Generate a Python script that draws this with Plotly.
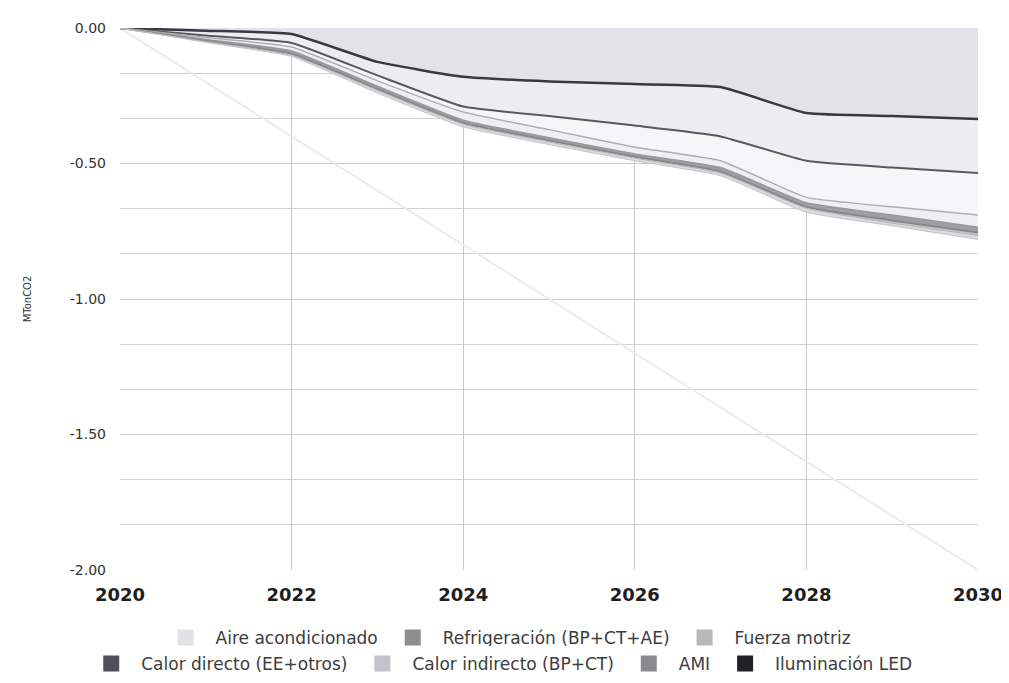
import plotly.graph_objects as go

# -------------------------------------------------------
# Datos (MTonCO2, aporte de cada medida, apilado hacia abajo)
# -------------------------------------------------------
anios = [2020, 2021, 2022, 2023, 2024, 2025, 2026, 2027, 2028, 2029, 2030]

aire_acondicionado = [0, -0.010, -0.022, -0.125, -0.180, -0.197, -0.207, -0.218, -0.314, -0.325, -0.336]
refrigeracion = [0, -0.018, -0.033, -0.050, -0.110, -0.128, -0.153, -0.182, -0.176, -0.190, -0.199]
fuerza_motriz = [0, -0.007, -0.015, -0.020, -0.020, -0.050, -0.080, -0.090, -0.135, -0.145, -0.155]
calor_directo = [0, -0.007, -0.015, -0.020, -0.030, -0.030, -0.025, -0.025, -0.020, -0.030, -0.045]
calor_indirecto = [0, -0.005, -0.010, -0.010, -0.010, -0.010, -0.010, -0.015, -0.015, -0.020, -0.020]
ami = [0, -0.003, -0.005, -0.005, -0.005, -0.005, -0.005, -0.005, -0.005, -0.010, -0.010]
iluminacion_led = [0, -0.003, -0.005, -0.010, -0.010, -0.010, -0.010, -0.010, -0.015, -0.010, -0.015]

# linea tenue de referencia (diagonal)
meta = [0, -0.20, -0.40, -0.60, -0.80, -1.00, -1.20, -1.40, -1.60, -1.80, -2.00]

nombres = ["Aire acondicionado", "Refrigeración (BP+CT+AE)", "Fuerza motriz",
           "Calor directo (EE+otros)", "Calor indirecto (BP+CT)", "AMI", "Iluminación LED"]
series = [aire_acondicionado, refrigeracion, fuerza_motriz, calor_directo,
          calor_indirecto, ami, iluminacion_led]

y_ticks = [0, -0.5, -1.0, -1.5, -2.0]
y_ticktext = ["0.00", "-0.50", "-1.00", "-1.50", "-2.00"]

# -------------------------------------------------------
# Estilos
# -------------------------------------------------------
rellenos = ["#e3e1ea", "#edecf2", "#f6f6f8", "#efeff2", "#a0a0a4", "#c6c6c9", "#dadadd"]
lineas = ["#38383e", "#58585e", "#aeaeb2", "#98989c", "#88888c", "#b2b2b6", "#c4c4c8"]
anchos = [2.5, 2, 1.5, 1.5, 2, 1, 1]
leyenda_colores = ["#e2e2e6", "#8e8e92", "#b8b8bc", "#505054", "#c4c4c8", "#8a8a8e", "#222226"]

fig = go.Figure()

fig.add_trace(go.Scatter(
    x=anios, y=meta, mode="lines",
    line=dict(color="#ebebed", width=2),
    showlegend=False, hoverinfo="skip"
))

for nombre, vals, rel, lin, w in zip(nombres, series, rellenos, lineas, anchos):
    fig.add_trace(go.Scatter(
        x=anios, y=vals, name=nombre, stackgroup="uno",
        mode="lines", line=dict(color=lin, width=w, shape="spline", smoothing=0.4),
        fillcolor=rel, showlegend=False
    ))

# entradas de leyenda (cuadrados), fila 1 y fila 2
for i, (nombre, col) in enumerate(zip(nombres, leyenda_colores)):
    fig.add_trace(go.Scatter(
        x=[None], y=[None], name=nombre, mode="markers",
        marker=dict(symbol="square", size=20, color=col),
        legend="legend" if i < 3 else "legend2"
    ))

fuente_ley = dict(family="DejaVu Sans", size=17, color="#3c3c3c")

# el cuerpo de la pagina deja 8 px de margen: figura 1001x675
fig.update_layout(
    width=1001, height=675,
    margin=dict(l=112, r=31, t=20, b=113),
    plot_bgcolor="white", paper_bgcolor="white",
    font=dict(family="DejaVu Sans", color="#333"),
    legend=dict(orientation="h", x=0.45, xanchor="center", yref="container",
                y=1 - 630 / 675, yanchor="middle",
                font=fuente_ley, traceorder="normal", itemwidth=50),
    legend2=dict(orientation="h", x=0.442, xanchor="center", yref="container",
                 y=1 - 656 / 675, yanchor="middle",
                 font=fuente_ley, traceorder="normal", itemwidth=50),
)

fig.update_xaxes(
    range=[2020, 2030], tickvals=[2020, 2022, 2024, 2026, 2028, 2030],
    showgrid=True, gridcolor="#cbcbcb", gridwidth=1,
    tickfont=dict(family="DejaVu Sans", size=18, color="#1e1e1e", weight="bold"),
    ticklabelstandoff=12,
    showline=False, zeroline=False, automargin=False
)

fig.update_yaxes(
    range=[-2.0, 0.0], tickvals=y_ticks, ticktext=y_ticktext,
    showgrid=True, gridcolor="#cbcbcb", gridwidth=1,
    minor=dict(dtick=0.5 / 3, showgrid=True, gridcolor="#d2d2d2"),
    tickfont=dict(family="DejaVu Sans", size=14, color="#333"),
    ticklabelstandoff=13,
    title=dict(text="MTonCO2", font=dict(family="DejaVu Sans", size=10, color="#333"), standoff=36),
    zeroline=False, showline=False, automargin=False
)

fig.write_html("out.html")
